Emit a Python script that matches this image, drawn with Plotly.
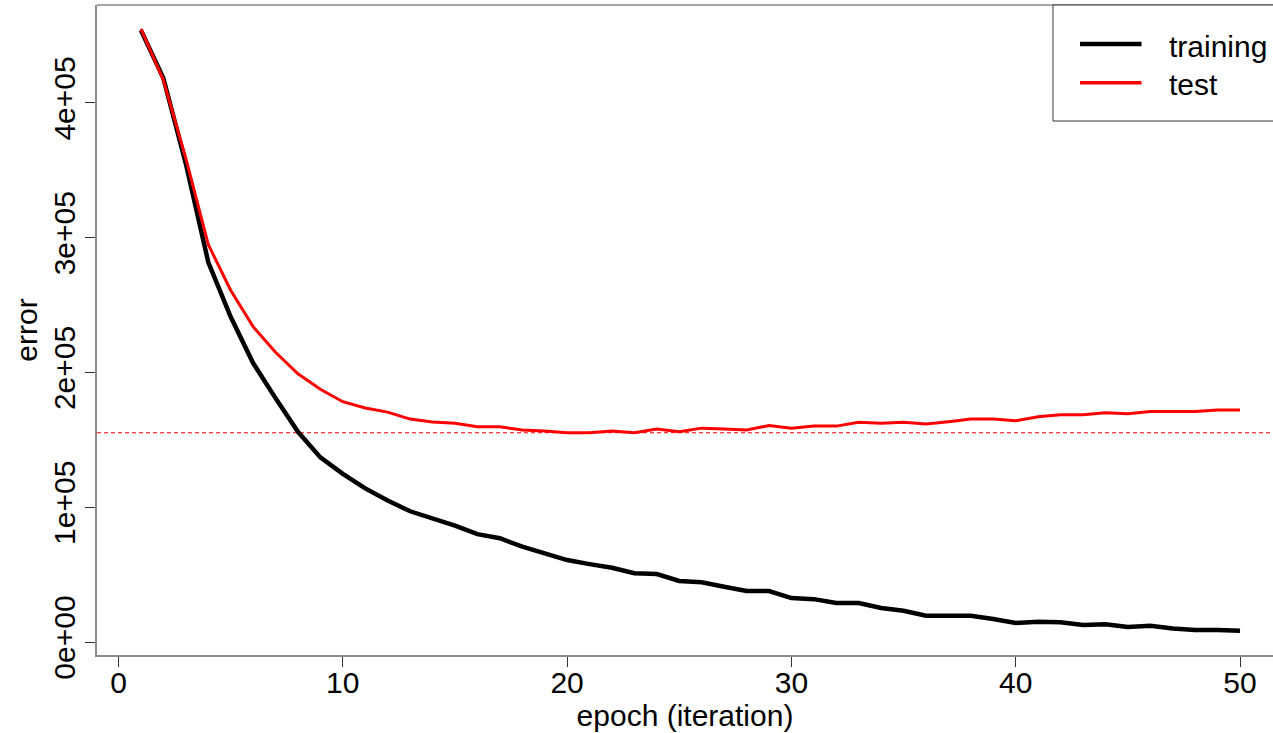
import plotly.graph_objects as go

epochs = list(range(1, 51))
training = [454000, 418400, 355000, 282000, 241300, 207000, 181000, 156000, 137000, 124800,
            114000, 105000, 97000, 92000, 86300, 80000, 77000, 70700, 66000, 60800,
            57800, 55100, 51000, 50400, 45300, 44300, 41000, 37800, 37800, 32600,
            31800, 28900, 28900, 25200, 23200, 19500, 19500, 19500, 17000, 14100,
            15100, 14600, 12600, 13100, 11100, 12100, 10100, 8900, 8900, 8400]
test = [455000, 417000, 359000, 295000, 261000, 234000, 215000, 199000, 187500, 178300,
        173600, 170600, 165400, 163200, 162400, 159700, 159700, 157300, 156500, 155300,
        155300, 156500, 155300, 158000, 156000, 158700, 158000, 157300, 160600, 158700,
        160200, 160200, 163000, 162400, 163000, 161700, 163400, 165400, 165400, 164200,
        167200, 168600, 168600, 170100, 169400, 171100, 171100, 171100, 172100, 172100]
y_tickvals = [0, 100000, 200000, 300000, 400000]
y_ticktext = ["0e+00", "1e+05", "2e+05", "3e+05", "4e+05"]
x_tickvals = [0, 10, 20, 30, 40, 50]
series_names = ["training", "test"]

FONT = "Liberation Sans, Arial, sans-serif"
FS = 30

fig = go.Figure()
fig.add_trace(go.Scatter(x=epochs, y=training, mode="lines", name=series_names[0],
                         line=dict(color="black", width=4.5), showlegend=False))
fig.add_trace(go.Scatter(x=epochs, y=test, mode="lines", name=series_names[1],
                         line=dict(color="#ff0000", width=3), showlegend=False))

# horizontal reference line at min test error
fig.add_shape(type="line", xref="paper", x0=0, x1=1, yref="y", y0=min(test), y1=min(test),
              line=dict(color="#ff0000", width=1, dash="4px,3px"), layer="below")
# top border of box
fig.add_shape(type="line", xref="paper", x0=0, x1=1, yref="paper", y0=1, y1=1,
              line=dict(color="#8a8a8a", width=1.5))

# manual legend
fig.add_shape(type="rect", xref="paper", yref="paper", x0=0.8129, x1=1.05, y0=0.8215, y1=1.0,
              line=dict(color="#333333", width=1), fillcolor="white")
fig.add_shape(type="line", xref="paper", yref="paper", x0=0.8359, x1=0.8882, y0=0.940, y1=0.940,
              line=dict(color="black", width=4.5))
fig.add_shape(type="line", xref="paper", yref="paper", x0=0.8359, x1=0.8882, y0=0.8805, y1=0.8805,
              line=dict(color="#ff0000", width=3.5))
fig.add_annotation(xref="paper", yref="paper", x=0.9095, y=0.936, text=series_names[0],
                   showarrow=False, xanchor="left", yanchor="middle",
                   font=dict(family=FONT, size=FS, color="black"))
fig.add_annotation(xref="paper", yref="paper", x=0.9095, y=0.878, text=series_names[1],
                   showarrow=False, xanchor="left", yanchor="middle",
                   font=dict(family=FONT, size=FS, color="black"))

fig.update_layout(
    width=1273, height=733,
    margin=dict(l=97, r=0, t=5, b=78),
    paper_bgcolor="white", plot_bgcolor="white",
    font=dict(family=FONT, size=FS, color="black"),
    xaxis=dict(range=[-0.959, 51.47], tickvals=x_tickvals, showgrid=False, zeroline=False,
               showline=True, linecolor="#8a8a8a", linewidth=1.5,
               ticks="outside", ticklen=10, tickwidth=1, tickcolor="#333333",
               ticklabelstandoff=-10,
               tickfont=dict(size=FS), title=dict(text="epoch (iteration)", standoff=2,
                                                 font=dict(size=FS))),
    yaxis=dict(range=[-9650, 472700], tickvals=y_tickvals, ticktext=y_ticktext,
               showgrid=False, zeroline=False, tickangle=-90,
               showline=True, linecolor="#8a8a8a", linewidth=1.5,
               ticks="outside", ticklen=10, tickwidth=1, tickcolor="#333333",
               ticklabelstandoff=-2,
               tickfont=dict(size=FS), title=dict(text="error", standoff=2,
                                                 font=dict(size=FS))),
)

fig.write_html("out.html", config={"displayModeBar": False},
               post_script="document.body.style.margin='0';document.body.style.overflow='hidden';")
